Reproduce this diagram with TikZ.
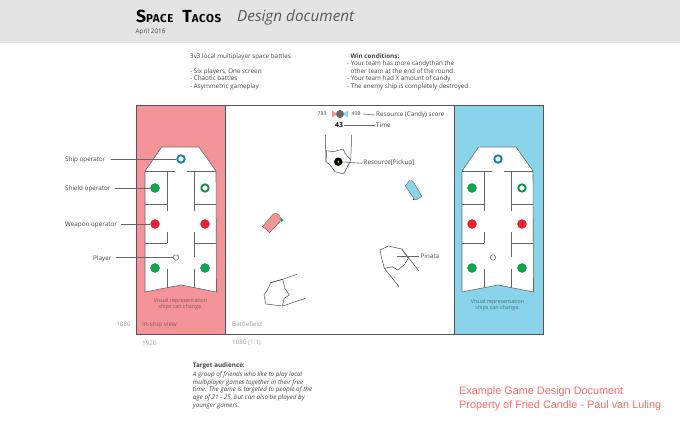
\documentclass[tikz,border=0pt]{standalone}
\usepackage{fontspec}
\setmainfont{Open Sans}
\newfontfamily\redfont{Liberation Sans}
\newfontfamily\titlefont[LetterSpace=5]{Fira Sans}
\definecolor{band}{HTML}{E4E4E4}
\definecolor{panelred}{HTML}{F49499}
\definecolor{panelblue}{HTML}{89D4EA}
\definecolor{frameline}{HTML}{555555}
\definecolor{wallc}{HTML}{666666}
\definecolor{ringblue}{HTML}{1B7FA6}
\definecolor{opgreen}{HTML}{0DA84F}
\definecolor{opred}{HTML}{EE2233}
\definecolor{bodyc}{HTML}{444444}
\definecolor{dimc}{HTML}{A0A0A0}
\definecolor{redtxt}{HTML}{FF6A6A}
\tikzset{
  txt/.style={inner sep=0pt,anchor=west,text=bodyc,font=\fontsize{6.3}{7.5}\selectfont},
  dim/.style={txt,text=dimc},
  lbl/.style={txt,text=bodyc},
  wall/.style={draw=wallc,line width=0.6pt},
  ship/.style={fill=white,draw=wallc,line width=0.6pt,line join=miter},
  lead/.style={draw=wallc,line width=0.6pt},
  sketch/.style={draw=black!70,line width=0.5pt,line join=round},
  opg/.style={circle,fill=opgreen,draw=opgreen!70!black,line width=0.3pt,minimum size=9pt,inner sep=0pt},
  opr/.style={circle,fill=opred,draw=opred!80!black,line width=0.3pt,minimum size=9pt,inner sep=0pt},
  ringg/.style={circle,fill=white,draw=opgreen!85!black,line width=1.8pt,minimum size=7.4pt,inner sep=0pt},
  ringb/.style={circle,fill=white,draw=ringblue,line width=1.9pt,minimum size=7.4pt,inner sep=0pt},
  pl/.style={circle,fill=white,draw=wallc,line width=0.6pt,minimum size=5.4pt,inner sep=0pt},
}
\newcommand{\shipbody}[1]{%
  \begin{scope}[xshift=#1pt]
    \path[ship] (161.7,147) -- (199,147) -- (216,171) -- (216.5,292) -- (181,285) -- (145,292) -- (145,171) -- cycle;
    \draw[draw=white,line width=1pt] (174.5,171) -- (186.5,171);
    \draw[wall] (145,171) -- (174.5,171) (186.5,171) -- (216,171);
    \draw[wall] (167,171) -- (167,211) (194.5,171) -- (194.5,211);
    \draw[wall] (145,204) -- (167,204) (194.5,204) -- (216,204);
    \draw[wall] (167,232) -- (167,243) (194.5,232) -- (194.5,257);
    \draw[wall] (145,243) -- (167,243) (194.5,243) -- (216,243);
    \draw[wall] (167,269) -- (167,287.5) (194.5,269) -- (194.5,287.5);
  \end{scope}}
\begin{document}
\begin{tikzpicture}[x=1pt,y=-1pt]
\useasboundingbox (0,0) rectangle (680,425);
\fill[white] (0,0) rectangle (680,425);
\fill[band] (0,0) rectangle (680,43);
% header
\node[inner sep=0pt,anchor=west,text=black] (title) at (136,16) {\titlefont\bfseries{\fontsize{17.5}{17}\selectfont S}{\fontsize{11.5}{11}\selectfont PACE}\hspace{9pt}{\fontsize{17.5}{17}\selectfont T}{\fontsize{11.5}{11}\selectfont ACOS}};
\node[inner sep=0pt,anchor=west,text=black!65,font=\fontsize{15.3}{17}\selectfont\itshape] (design) at (237,18) {Design document};
\node[txt] (date) at (135.5,32) {April 2016};
% intro
\node[txt] (t1) at (190,57) {3v3 local multiplayer space battles};
\node[txt,align=left,anchor=north west] (t2) at (190,68.3) {- Six players, One screen\\- Chaotic battles\\- Asymmetric gameplay};
\node[txt,anchor=west,font=\fontsize{6.3}{7.5}\selectfont\bfseries] (w0) at (350.5,56.2) {Win conditions:};
\node[txt,align=left,anchor=north west] (w1) at (347,60.8) {- Your team has more candythan the\\\hspace*{3.5pt}other team at the end of the round.\\- Your team had X amount of candy\\- The enemy ship is completely destroyed.};
% panels
\fill[panelred] (136,105) rectangle (225,334);
\fill[panelblue] (454,105) rectangle (543,334);
\draw[frameline,line width=0.9pt] (136,105) rectangle (543,334);
\draw[frameline,line width=0.9pt] (225,105) -- (225,334) (454,105) -- (454,334);
% ships
\shipbody{0}
\shipbody{317}
% left operators
\node[ringb] (so) at (181,159) {};
\node[opg] (sh) at (155,188) {};
\node[ringg] (shr) at (205,188) {};
\node[opr] (we) at (155,224) {};
\node[opr] (wer) at (205,224) {};
\node[opg] (gl) at (155,268) {};
\node[opg] (gr) at (205,268) {};
\node[pl] (pla) at (176,257.5) {};
% right operators
\node[ringb] (so2) at (498,159) {};
\node[opg] (sh2) at (472,188) {};
\node[ringg] (shr2) at (522,188) {};
\node[opr] (we2) at (472,224) {};
\node[opr] (wer2) at (522,224) {};
\node[opg] (gl2) at (472,268) {};
\node[opg] (gr2) at (522,268) {};
\node[pl] (pla2) at (493,257.5) {};
% left labels
\node[lbl] (lso) at (65,159.5) {Ship operator};
\node[lbl] (lsh) at (65,188.5) {Shield operator};
\node[lbl] (lwe) at (65,225) {Weapon operator};
\node[lbl] (lpl) at (93,258.5) {Player};
\draw[lead] ([xshift=5pt,yshift=0.5pt]lso.east) -- (so);
\draw[lead] ([xshift=4pt,yshift=0.5pt]lsh.east) -- (sh);
\draw[lead] ([xshift=4pt,yshift=1pt]lwe.east) -- (we);
\draw[lead] ([xshift=4pt,yshift=1pt]lpl.east) -- (pla);
% panel notes
\node[txt,anchor=center,align=center,text=black!35!panelred!85!black,font=\fontsize{5.4}{6.4}\selectfont] (vr) at (180.5,304) {Visual representation\\ships can change.};
\node[txt,anchor=center,align=center,text=black!30!panelblue!75!black,font=\fontsize{5.4}{6.6}\selectfont] (vb) at (497.5,305) {Visual representation\\ships can change.};
\node[dim,anchor=east] (d1) at (131,324) {1080};
\node[txt,text=black!30!panelred!85!black] (isv) at (142,324.5) {In-ship view};
\node[dim] (bf) at (232,324) {Battlefield};
\node[dim] (d2) at (142,343) {1920};
\node[dim] (d3) at (232,343) {1080 (1:1)};
% score
\fill[panelred] (332,110.5) -- (336,113) -- (336,115) -- (332,117.5) -- cycle;
\fill[panelblue] (348,110.5) -- (344,113) -- (344,115) -- (348,117.5) -- cycle;
\node[circle,fill=black!60,minimum size=8pt,inner sep=0pt] (sc) at (340,114) {};
\node[txt,font=\fontsize{5.2}{6}\selectfont] (s1) at (317.5,114) {783};
\node[txt,font=\fontsize{5.2}{6}\selectfont] (s2) at (351.5,114) {498};
\node[lbl] (rs) at (376,114.5) {Resource (Candy) score};
\node[txt,anchor=center,text=black,font=\fontsize{6.8}{7}\selectfont\bfseries] (tm) at (339,125) {43};
\node[lbl] (tl) at (376,125) {Time};
\draw[lead] ([xshift=2pt]s2.east) -- ([xshift=-1pt,yshift=-0.5pt]rs.west);
\draw[lead] (tm.east) ++(1pt,0) -- ([xshift=-1pt]tl.west);
% pickup
\draw[sketch] (325.3,135) -- (326,161.7);
\draw[sketch] (351.7,135) -- (350.7,160);
\draw[sketch] (326.7,150.7) -- (333.3,151.7) -- (343.3,149) -- (345,153.3) -- (350.7,160) -- (345,171.7) -- (343.3,174) -- (335,171.7) -- (330,165) -- (326,161.7) -- cycle;
\node[circle,fill=black,minimum size=8.4pt,inner sep=0pt] (pk) at (338.3,161.7) {};
\fill[yellow!85!orange] (338.8,159.8) -- (337.4,162) -- (338.4,162) -- (337.8,163.6) -- (339.3,161.3) -- (338.3,161.3) -- cycle;
\node[lbl] (lpk) at (363.5,162.5) {Resource[Pickup]};
\draw[lead] (pk) -- ([xshift=-1pt,yshift=-0.8pt]lpk.west);
% little ships
\filldraw[fill=panelblue,draw=black!60,line width=0.4pt,line join=round] (405.3,186) -- (409.3,180.6) .. controls (410.5,180) and (412.5,180.5) .. (413.3,181.7) -- (421.7,196) .. controls (419.5,198.5) and (417.5,199.8) .. (415,200) .. controls (412,196) and (408,190) .. cycle;
\fill[ringblue!70!black] (413.5,199.2) circle (0.9pt);
\fill[opgreen] (281.7,220) circle (1.8pt);
\filldraw[fill=panelred,draw=black!60,line width=0.4pt,line join=round] (262.3,226.7) -- (273.3,214) .. controls (275,213) and (277.5,213) .. (278.8,214.5) .. controls (280.5,216) and (281,219) .. (280,221.7) -- (269.3,232.7) .. controls (267.5,230) and (265,228) .. cycle;
% debris
\draw[sketch] (270.7,282.7) -- (282.7,279.3) -- (285,288.3) -- (289.3,295) -- (284,298.3) -- (282.7,306) -- (265.7,304) -- (264,295) -- (267.3,290) -- cycle;
\draw[sketch] (270.7,282.7) -- (282.7,279.3) -- (296.7,274.3);
\draw[sketch] (282.7,306) -- (305.3,298.3);
% pinata
\draw[sketch] (380,250) -- (388.3,246) -- (401.7,249) -- (408.3,258.3) -- (404,265) -- (397.7,270) -- (392.7,266.7) -- (384.3,268.3) -- (381.7,258.3) -- cycle;
\draw[sketch] (401.7,249) -- (418.7,270.7);
\draw[sketch] (384.3,268.3) -- (399,286.7);
\coordinate (pinc) at (396.7,256.7);
\node[lbl] (lpin) at (420.5,256.7) {Pinata};
\draw[lead] (pinc) -- ([xshift=-2pt]lpin.west);
% target audience
\node[txt,font=\fontsize{6.3}{7.5}\selectfont\bfseries] (ta) at (192.7,366.2) {Target audience:};
\node[txt,anchor=north west,align=left,font=\fontsize{6.3}{7.7}\selectfont\itshape] (tb) at (192.7,371.5) {A group of friends who like to play local\\multiplayer games together in their free\\time. The game is targeted to people of the\\age of 21 - 25, but can also be played by\\younger gamers.};
% credit
\node[inner sep=0pt,anchor=west,text=redtxt,font=\redfont\fontsize{10.85}{11.4}\selectfont] (c1) at (459,392) {Example Game Design Document};
\node[inner sep=0pt,anchor=west,text=redtxt,font=\redfont\fontsize{10.85}{11.4}\selectfont] (c2) at (459,405.5) {Property of Fried Candle - Paul van Luling};
\end{tikzpicture}
\end{document}
